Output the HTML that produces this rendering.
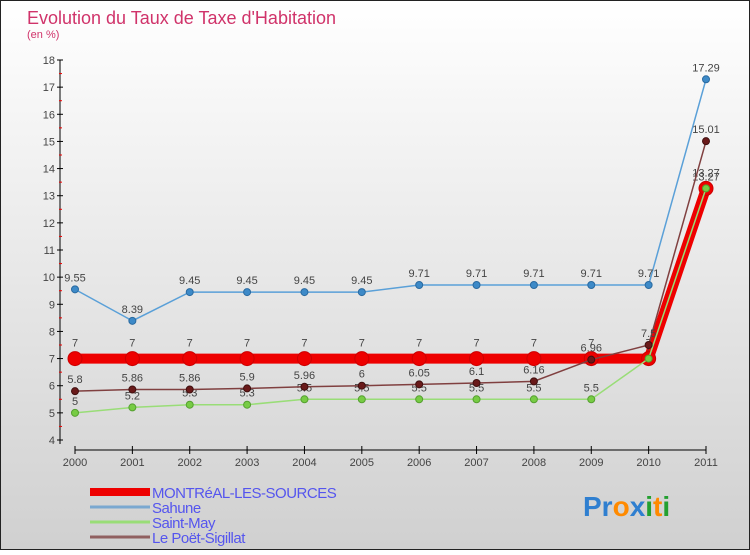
<!DOCTYPE html>
<html><head><meta charset="utf-8"><style>
body{margin:0;width:750px;height:550px;overflow:hidden;font-family:"Liberation Sans",sans-serif}
svg text{font-family:"Liberation Sans",sans-serif}
</style></head><body>
<svg id="c" width="750" height="550" xmlns="http://www.w3.org/2000/svg">
<defs><linearGradient id="bg" x1="0" y1="0" x2="0" y2="1"><stop offset="0" stop-color="#ffffff"/><stop offset="1" stop-color="#d0d0d0"/></linearGradient></defs>
<rect x="0.5" y="0.5" width="749" height="549" fill="url(#bg)" stroke="#222"/>
<text x="27" y="24" font-size="18" fill="#d0336a">Evolution du Taux de Taxe d'Habitation</text>
<text x="27" y="38" font-size="11" fill="#d0336a">(en %)</text>
<g id="axes"></g><g id="series"></g><g id="legend"></g>
<text x="583" y="516" font-size="28" font-weight="bold"><tspan fill="#2f7fd0">Pr</tspan><tspan fill="#ff8a00">o</tspan><tspan fill="#2f7fd0">x</tspan><tspan fill="#23a030">i</tspan><tspan fill="#ff8a00">t</tspan><tspan fill="#23a030">i</tspan></text>
</svg>
<script>
const years=["2000","2001","2002","2003","2004","2005","2006","2007","2008","2009","2010","2011"];
const yTicks=[4,5,6,7,8,9,10,11,12,13,14,15,16,17,18];
const montreal=[7,7,7,7,7,7,7,7,7,7,7,13.27];
const sahune=[9.55,8.39,9.45,9.45,9.45,9.45,9.71,9.71,9.71,9.71,9.71,17.29];
const saintMay=[5,5.2,5.3,5.3,5.5,5.5,5.5,5.5,5.5,5.5,7,13.27];
const lePoet=[5.8,5.86,5.86,5.9,5.96,6,6.05,6.1,6.16,6.96,7.5,15.01];
const seriesNames=["MONTRéAL-LES-SOURCES","Sahune","Saint-May","Le Poët-Sigillat"];
const NS="http://www.w3.org/2000/svg";
const X=i=>75+i*(706-75)/11;
const Y=v=>440-(v-4)*(380/14);
function mk(tag,attrs,parent){const e=document.createElementNS(NS,tag);for(const k in attrs)e.setAttribute(k,attrs[k]);parent.appendChild(e);return e;}
const ax=document.getElementById('axes');
let a=mk('line',{x1:60,y1:Y(18),x2:60,y2:Y(4)+4,stroke:'#000'},ax);


yTicks.forEach(v=>{
 let t=mk('line',{x1:57,x2:63,y1:Y(v),y2:Y(v),stroke:'#000'},ax);
 
 
 if(v<18){let m=mk('line',{x1:59,x2:62,y1:Y(v+0.5),y2:Y(v+0.5),stroke:'#e00'},ax);
 
 }
 let l=mk('text',{x:55,y:Y(v)+4,'font-size':11,'text-anchor':'end',fill:'#444'},ax);l.textContent=v;
 
 
});
a=mk('line',{x1:X(0),y1:450,x2:X(11),y2:450,stroke:'#000'},ax);


years.forEach((y,i)=>{
 let t=mk('line',{x1:X(i),x2:X(i),y1:446,y2:454,stroke:'#000'},ax);
 
 
 let l=mk('text',{x:X(i),y:466,'font-size':11,'text-anchor':'middle',fill:'#444'},ax);l.textContent=y;
 
 
});
const sg=document.getElementById('series');
function draw(data,name,color,fill,w,r,ring,labelDy){
 const g=mk('g',{},sg);
 
 
 let p=mk('polyline',{points:data.map((v,i)=>X(i)+','+Y(v)).join(' '),fill:'none',stroke:color,'stroke-width':w},g);
 
 
 data.forEach((v,i)=>{
  let c=mk('circle',{cx:X(i),cy:Y(v),r:r,fill:fill,stroke:ring,'stroke-width':1},g);
  
  
  let t=mk('text',{x:X(i),y:Y(v)+labelDy,'font-size':11,'text-anchor':'middle',fill:'#444'},g);t.textContent=v;
  
  
 });
}
draw(montreal,'montreal','#ee0000','#ee0000',10,7,'#c00',-12);
draw(sahune,'sahune','#5aa0d8','#3d8ac8',1.5,3.5,'#2a6aa0',-8);
draw(saintMay,'saint-may','#99dd77','#77cc44',1.5,3.5,'#55a030',-8);
draw(lePoet,'le-poet','#804040','#6a1a1a',1.5,3.5,'#401010',-8);
const lg=document.getElementById('legend');
const lc=['#ee0000','#7aa8d0','#99dd77','#906060'];const lw=[8,3,3,3];
seriesNames.forEach((n,i)=>{
 const y=492+i*15;
 let l=mk('line',{x1:90,x2:150,y1:y,y2:y,stroke:lc[i],'stroke-width':lw[i]},lg);
 
 
 let t=mk('text',{x:152,y:y+6,'font-size':15,fill:'#5555ee','letter-spacing':'-0.5'},lg);t.textContent=n;
 
 
});
</script>
</body></html>
